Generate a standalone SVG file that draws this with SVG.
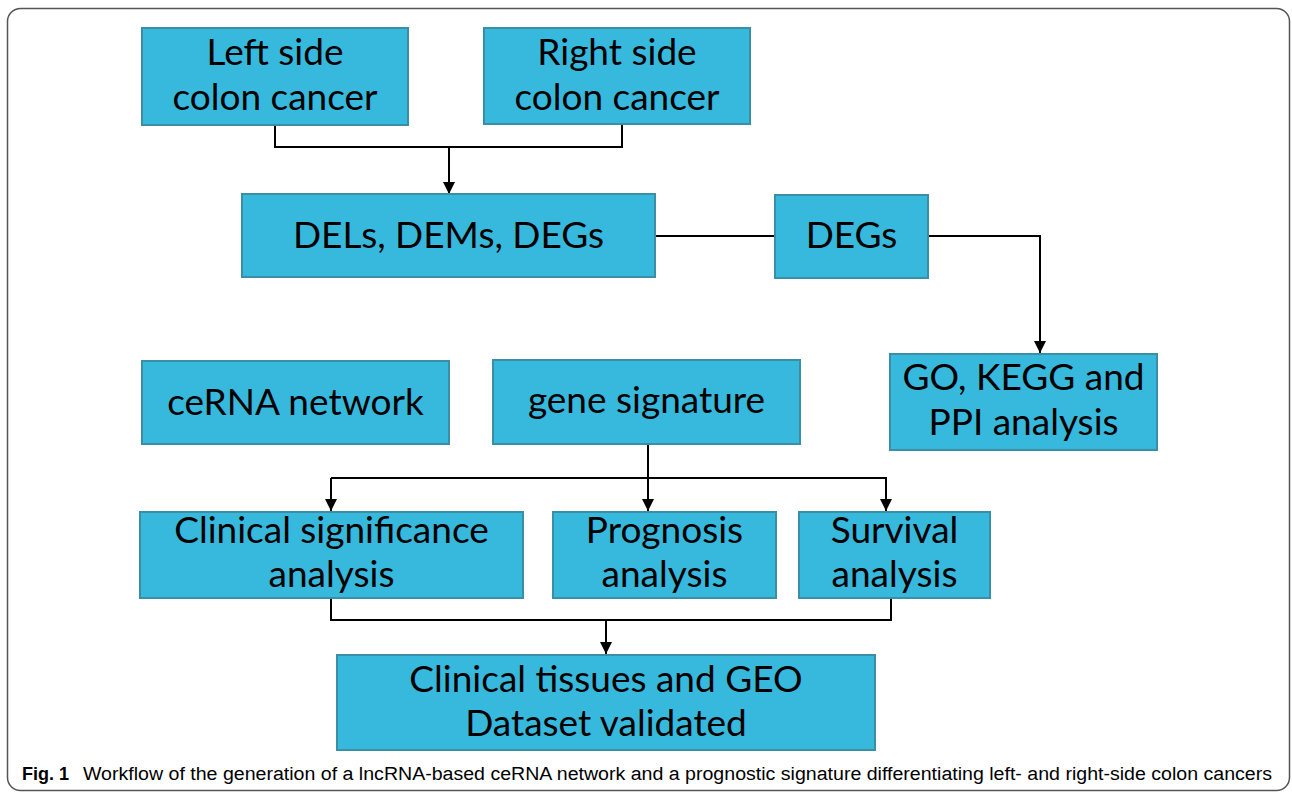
<svg xmlns="http://www.w3.org/2000/svg" width="1292" height="793" viewBox="0 0 1292 793">
  <defs>
    <marker id="arrow" viewBox="0 0 12 12" refX="12" refY="6" markerWidth="12" markerHeight="12" markerUnits="userSpaceOnUse" orient="auto">
      <path d="M0,0 L12,6 L0,12 Z" fill="#000"/>
    </marker>
    <style>
      .box { fill: #36b9dc; stroke: #3a8ea6; stroke-width: 2; }
      .lbl { font-family: Lato, "Open Sans", sans-serif; font-size: 37px; fill: #000; text-anchor: middle; }
      .conn { fill: none; stroke: #000; stroke-width: 2; }
      .cap { font-family: "Liberation Sans", Arial, sans-serif; font-size: 18px; fill: #000; }
    </style>
  </defs>
  <rect x="0" y="0" width="1292" height="793" fill="#fff"/>
  <rect x="7.5" y="8.5" width="1282" height="782" rx="13" fill="#fff" stroke="#555" stroke-width="1.5"/>

  <g id="connectors">
    <path class="conn" d="M275,125 V147 H622 V125"/>
    <path class="conn" d="M449,147 V194" marker-end="url(#arrow)"/>
    <path class="conn" d="M655,236 H775"/>
    <path class="conn" d="M928,236 H1040 V353" marker-end="url(#arrow)"/>
    <path class="conn" d="M648,444 V511" marker-end="url(#arrow)"/>
    <path class="conn" d="M331,478 H886 V511" marker-end="url(#arrow)"/>
    <path class="conn" d="M331,478 V511" marker-end="url(#arrow)"/>
    <path class="conn" d="M331,598 V620 H891 V598"/>
    <path class="conn" d="M606,620 V654" marker-end="url(#arrow)"/>
  </g>

  <g id="left-side">
    <rect class="box" x="142" y="28" width="266" height="97"/>
    <text class="lbl" x="275" y="65">Left side</text>
    <text class="lbl" x="275" y="110">colon cancer</text>
  </g>
  <g id="right-side">
    <rect class="box" x="484" y="28" width="266" height="96"/>
    <text class="lbl" x="617" y="65">Right side</text>
    <text class="lbl" x="617" y="110">colon cancer</text>
  </g>
  <g id="dels">
    <rect class="box" x="242" y="194" width="413" height="83"/>
    <text class="lbl" x="448.5" y="248">DELs, DEMs, DEGs</text>
  </g>
  <g id="degs">
    <rect class="box" x="775" y="195" width="153" height="83"/>
    <text class="lbl" x="851.5" y="248">DEGs</text>
  </g>
  <g id="go-kegg">
    <rect class="box" x="890" y="354" width="267" height="96"/>
    <text class="lbl" x="1023.5" y="390">GO, KEGG and</text>
    <text class="lbl" x="1023.5" y="435">PPI analysis</text>
  </g>
  <g id="cerna">
    <rect class="box" x="142" y="361" width="307" height="83"/>
    <text class="lbl" x="295.5" y="415">ceRNA network</text>
  </g>
  <g id="gene-signature">
    <rect class="box" x="493" y="360" width="307" height="84"/>
    <text class="lbl" x="646.5" y="413">gene signature</text>
  </g>
  <g id="clinical-significance">
    <rect class="box" x="140" y="512" width="383" height="86"/>
    <text class="lbl" x="331.5" y="543">Clinical significance</text>
    <text class="lbl" x="331.5" y="587">analysis</text>
  </g>
  <g id="prognosis">
    <rect class="box" x="553" y="512" width="223" height="86"/>
    <text class="lbl" x="664.5" y="543">Prognosis</text>
    <text class="lbl" x="664.5" y="587">analysis</text>
  </g>
  <g id="survival">
    <rect class="box" x="799" y="512" width="191" height="86"/>
    <text class="lbl" x="894.5" y="543">Survival</text>
    <text class="lbl" x="894.5" y="587">analysis</text>
  </g>
  <g id="validated">
    <rect class="box" x="337" y="655" width="538" height="95"/>
    <text class="lbl" x="606" y="692">Clinical tissues and GEO</text>
    <text class="lbl" x="606" y="736">Dataset validated</text>
  </g>

  <text class="cap" x="22" y="780"><tspan font-weight="bold">Fig. 1</tspan><tspan x="83" textLength="1189" lengthAdjust="spacingAndGlyphs">Workflow of the generation of a lncRNA-based ceRNA network and a prognostic signature differentiating left- and right-side colon cancers</tspan></text>
</svg>
